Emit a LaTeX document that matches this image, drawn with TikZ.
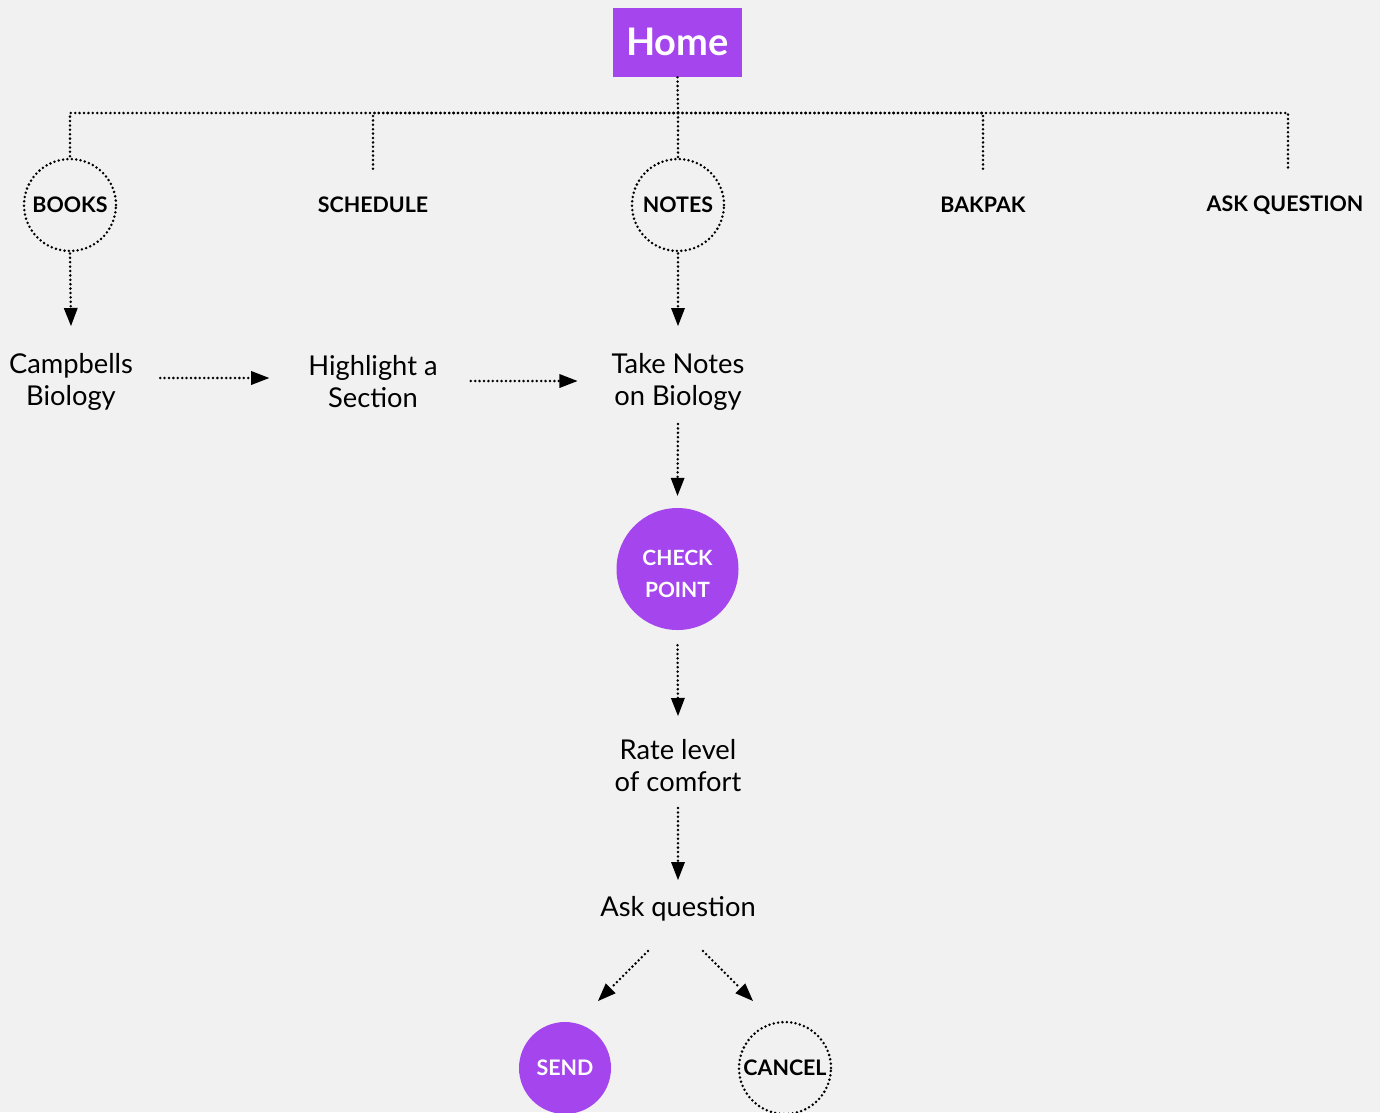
\documentclass[tikz,border=0pt]{standalone}
\usepackage{fontspec}
\setmainfont{Lato}
\usetikzlibrary{arrows.meta,calc}
\definecolor{bg}{HTML}{F1F1F1}
\definecolor{purp}{HTML}{A445EE}
\tikzset{
  dotline/.style={line width=2.8pt, dash pattern=on 0pt off 4.4pt, line cap=round},
  arr/.style={dotline, -{Triangle[length=18pt,width=14pt,line width=0pt]}},
  lbl/.style={font=\fontsize{21.4}{24}\selectfont\bfseries, inner sep=0pt},
  dotcirc/.style={circle, draw, minimum size=92pt, inner sep=0pt, dotline, lbl},
  fillcirc/.style={circle, fill=purp, text=white, inner sep=0pt, lbl},
  txt/.style={font=\fontsize{27.3}{32}\selectfont, align=center, inner sep=0pt},
}
\begin{document}
\begin{tikzpicture}[x=1pt,y=-1pt]
\useasboundingbox[fill=bg] (0,0) rectangle (1380,1112);
\node[fill=purp, text=white, minimum width=129pt, minimum height=69pt, inner sep=0pt,
      font=\fontsize{38}{40}\selectfont\bfseries] (home) at (677.5,42.5) {\raisebox{2pt}{Home}};
\coordinate (bar) at (678,113);
\node[dotcirc] (books) at (70,205) {BOOKS};
\node[lbl] (sched) at (373,205) {SCHEDULE};
\node[dotcirc] (notes) at (678,205) {NOTES};
\node[lbl] (bakpak) at (983,205) {BAKPAK};
\node[lbl] (askq) at (1285,205) {ASK QUESTION};
\node[txt] (camp) at (71,382) {Campbells\\Biology};
\node[txt] (high) at (373,382) {Highlight a\\Section};
\node[txt] (take) at (678,382) {Take Notes\\on Biology};
\node[fillcirc, minimum size=122pt, label={[text=white, align=center, yshift=-5pt, font=\fontsize{21}{32}\selectfont\bfseries]center:CHECK\\POINT}] (check) at (677.5,569) {};
\node[txt] (rate) at (678,766) {Rate level\\of comfort};
\node[txt] (ask) at (678,909) {Ask question};
\node[fillcirc, minimum size=92pt] (send) at (565,1068) {SEND};
\node[dotcirc] (cancel) at (785,1068) {CANCEL};
% tree
\draw[dotline] (home.south) -- (bar);
\draw[dotline] (bar) -| (books.north);
\draw[dotline] (bar) -| (notes.north);
\draw[dotline] (bar) -| ([yshift=24pt]sched.north);
\draw[dotline] (bar) -| ([yshift=24pt]bakpak.north);
\draw[dotline] (bar) -| ([yshift=24pt,xshift=3pt]askq.north);
% flow
\draw[arr] ([yshift=-1pt]books.south) -- ([xshift=1pt]books.south |- 0,326);
\draw[arr] ([yshift=-1pt]notes.south) -- (notes.south |- 0,326);
\draw[arr] ([shift={(27,-4)}]camp.east) -- ([shift={(-39,-4)}]high.west);
\draw[arr] ([shift={(33,-1)}]high.east) -- ([shift={(-34,-1)}]take.west);
\draw[arr] (take.south |- 0,424) -- ([yshift=12pt]check.north);
\draw[arr] ([yshift=-15pt]check.south) -- (rate.north |- 0,716);
\draw[arr] (rate.south |- 0,808) -- (ask.north |- 0,880);
\draw[arr] ([shift={(-30,42)}]ask.center) -- ([shift={(33,-67)}]send.center);
\draw[arr] ([shift={(25,42)}]ask.center) -- ([shift={(-32,-67)}]cancel.center);
\end{tikzpicture}
\end{document}
